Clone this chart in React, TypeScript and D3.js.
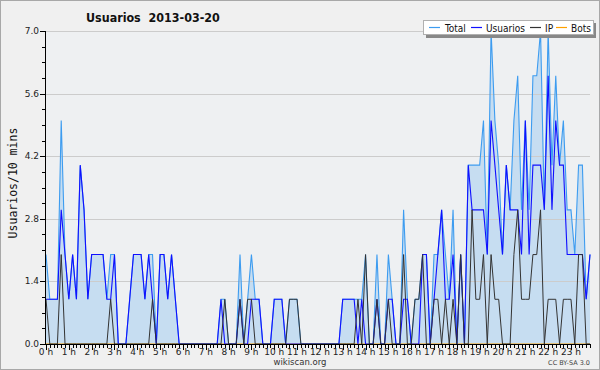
import React from 'react';
import * as d3 from 'd3';

const hourLabels = ['0 h','1 h','2 h','3 h','4 h','5 h','6 h','7 h','8 h','9 h','10 h','11 h','12 h','13 h','14 h','15 h','16 h','17 h','18 h','19 h','20 h','21 h','22 h','23 h'];
const yTickValues = [0, 1.4, 2.8, 4.2, 5.6, 7.0];
const seriesNames = ['Total', 'Usuarios', 'IP', 'Bots'];

// 10-minute intervals, 144 points
const total = [
  2,1,1,1,5,2,1,2,1,4,3,1,2,2,2,2,1,2,2,0,0,0,1,2,
  2,2,1,2,2,0,2,2,1,2,1,0,0,0,0,0,0,0,0,0,0,0,1,1,
  0,0,0,2,0,1,2,1,1,0,0,0,1,1,1,0,1,1,1,0,0,0,0,0,
  0,0,0,0,0,0,1,1,1,1,1,1,2,0,0,2,0,0,2,1,0,0,3,1,
  0,1,1,2,2,0,2,2,3,2,1,3,0,2,0,4,4,4,4,5,2,7,5,4,
  2,4,3,5,6,3,5,3,6,6,7,3,7,4,6,4,5,3,3,2,4,4,1,2
];
const usuarios = [
  1,1,1,1,3,2,1,2,1,4,3,1,2,2,2,2,1,1,2,0,0,0,1,2,
  2,2,1,2,1,0,2,2,1,2,1,0,0,0,0,0,0,0,0,0,0,0,1,0,
  0,0,0,1,0,0,1,1,1,0,0,0,1,1,1,0,0,0,0,0,0,0,0,0,
  0,0,0,0,0,0,1,1,1,1,0,1,0,0,0,1,0,0,1,1,0,0,1,1,
  0,0,0,2,2,0,1,2,3,1,1,2,0,2,0,4,3,3,3,3,2,5,4,3,
  2,4,3,3,3,2,5,2,4,4,4,3,6,3,5,4,4,2,2,2,2,2,1,2
];
const ip = [
  1,0,0,0,2,0,0,0,0,0,0,0,0,0,0,0,0,1,0,0,0,0,0,0,
  0,0,0,0,1,0,0,0,0,0,0,0,0,0,0,0,0,0,0,0,0,0,0,1,
  0,0,0,1,0,1,1,0,0,0,0,0,0,0,0,0,1,1,1,0,0,0,0,0,
  0,0,0,0,0,0,0,0,0,0,1,0,2,0,0,1,0,0,1,0,0,0,2,0,
  0,1,1,2,0,0,1,1,0,1,0,1,0,2,0,0,3,1,1,2,0,2,1,1,
  0,0,0,2,3,1,1,1,2,2,3,0,1,1,1,0,1,1,1,0,2,2,0,0
];
const bots = [
  0,0,0,0,0,0,0,0,0,0,0,0,0,0,0,0,0,0,0,0,0,0,0,0,
  0,0,0,0,0,0,0,0,0,0,0,0,0,0,0,0,0,0,0,0,0,0,0,0,
  0,0,0,0,0,0,0,0,0,0,0,0,0,0,0,0,0,0,0,0,0,0,0,0,
  0,0,0,0,0,0,0,0,0,0,0,0,0,0,0,0,0,0,0,0,0,0,0,0,
  0,0,0,0,0,0,0,0,0,0,0,0,0,0,0,0,0,0,0,0,0,0,0,0,
  0,0,0,0,0,0,0,0,0,0,0,0,0,0,0,0,0,0,0,0,0,0,0,0
];

const colors = ['#3d9cf0', '#1010ff', '#333333', '#ffa000'];

export default function App() {
  const W = 600, H = 370;
  const left = 46, right = 590, top = 31, bottom = 344;
  const x = d3.scaleLinear().domain([0, total.length - 1]).range([left, right]);
  const y = d3.scaleLinear().domain([0, 7]).range([bottom, top]);
  const line = d3.line<number>().x((_, i) => x(i)).y(d => y(d));
  const area = d3.area<number>().x((_, i) => x(i)).y0(y(0)).y1(d => y(d));
  const minorY = d3.range(0, 7.0001, 0.35);
  const idx = d3.range(total.length);
  const font = "'DejaVu Sans',sans-serif";
  const cfont = "'DejaVu Sans Condensed','DejaVu Sans',sans-serif";

  const legendItems = [
    { lx: 429, tx: 445 },
    { lx: 471, tx: 486 },
    { lx: 530, tx: 545 },
    { lx: 556, tx: 571 },
  ];

  return (
    <div style={{ position: 'absolute', left: 0, top: 0 }}>
      <svg width={W} height={H} style={{ display: 'block' }}>
        <rect x={0} y={0} width={W} height={H} fill="#f0f0f0" />
        <rect x={0.5} y={0.5} width={W - 1} height={H - 1} fill="none" stroke="#a8a8a8" />
        <rect x={left} y={top} width={right - left} height={bottom - top} fill="#eef0f2" />

        <path d={area(total) || ''} fill="#c6ddf1" />
        {yTickValues.filter(v => v > 0).map(v => (
          <line key={'g' + v} x1={left} x2={right} y1={Math.round(y(v)) + 0.5} y2={Math.round(y(v)) + 0.5} stroke="#cccccc" />
        ))}

        <path d={line(bots) || ''} fill="none" stroke={colors[3]} strokeWidth={1} />
        <path d={line(total) || ''} fill="none" stroke={colors[0]} strokeWidth={1.1} />
        <path d={line(usuarios) || ''} fill="none" stroke={colors[1]} strokeWidth={1.1} />
        <path d={line(ip) || ''} fill="none" stroke={colors[2]} strokeWidth={1} />

        {/* y axis */}
        <line x1={left - 0.5} x2={left - 0.5} y1={top} y2={bottom + 1} stroke="#000" />
        {minorY.map((v, i) => (
          <line key={'my' + i} x1={left - 4} x2={left} y1={Math.round(y(v)) + 0.5} y2={Math.round(y(v)) + 0.5} stroke="#000" />
        ))}
        {yTickValues.map(v => (
          <g key={'yt' + v}>
            <line x1={left - 6} x2={left} y1={Math.round(y(v)) + 0.5} y2={Math.round(y(v)) + 0.5} stroke="#000" />
            <text x={left - 7} y={y(v)} textAnchor="end" dominantBaseline="central" fontFamily={font} fontSize={9} fill="#222">{v.toFixed(1)}</text>
          </g>
        ))}

        {/* x axis */}
        <line x1={left - 1} x2={right} y1={bottom + 0.5} y2={bottom + 0.5} stroke="#000" />
        {idx.map(i => (
          <line key={'mx' + i} x1={Math.round(x(i)) + 0.5} x2={Math.round(x(i)) + 0.5} y1={bottom} y2={bottom + (i % 6 === 0 ? 6 : 4)} stroke="#000" />
        ))}
        {hourLabels.map((h, k) => (
          <text key={'xl' + k} x={x(k * 6)} y={352} textAnchor="middle" dominantBaseline="central" fontFamily={font} fontSize={9} fill="#222">{h}</text>
        ))}

        <text x={13} y={183} transform="rotate(-90 13 183)" textAnchor="middle" dominantBaseline="central" fontFamily="'DejaVu Sans Mono',monospace" fontSize={11.5} fill="#111">Usuarios/10 mins</text>

        <text x={86} y={17} dominantBaseline="central" fontFamily={cfont} fontWeight="bold" fontSize={12.4} fill="#111" style={{ whiteSpace: 'pre' }}>{'Usuarios  2013-03-20'}</text>

        {/* legend */}
        <rect x={426} y={23} width={170} height={15} fill="#888" />
        <rect x={423.5} y={20.5} width={170} height={14} fill="#fff" stroke="#b0b0b0" />
        {seriesNames.map((n, k) => (
          <g key={'lg' + n}>
            <line x1={legendItems[k].lx} x2={legendItems[k].lx + 11} y1={27.5} y2={27.5} stroke={colors[k]} strokeWidth={1.2} />
            <text x={legendItems[k].tx} y={28} dominantBaseline="central" fontFamily={cfont} fontSize={10} fill="#111">{n}</text>
          </g>
        ))}

        <text x={300} y={362} textAnchor="middle" dominantBaseline="central" fontFamily={font} fontSize={8.5} fill="#333">wikiscan.org</text>
        <text x={590} y={363} textAnchor="end" dominantBaseline="central" fontFamily={font} fontSize={6.5} fill="#444">CC BY-SA 3.0</text>
      </svg>
    </div>
  );
}
